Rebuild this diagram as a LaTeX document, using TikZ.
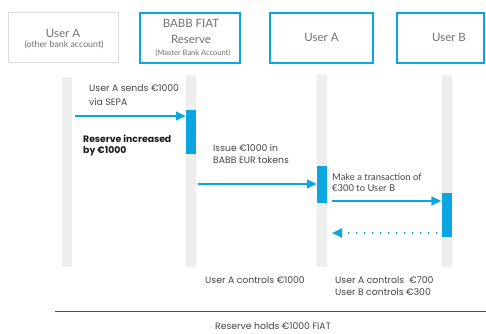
\documentclass[tikz,border=0pt]{standalone}
\usepackage{fontspec}
\setmainfont{Poppins}
\newfontfamily\hdfont{Lato}
\usetikzlibrary{arrows.meta}
\definecolor{babbblue}{HTML}{0BA5DF}
\definecolor{lifegray}{HTML}{EEEEEE}
\definecolor{txtgray}{HTML}{444444}
\definecolor{hdgray}{HTML}{707070}
\definecolor{boxgray}{HTML}{DDDDDD}
\tikzset{
  hdbox/.style={draw=babbblue, line width=2pt, minimum width=100pt, minimum height=50pt, inner sep=0pt},
  hdtext/.style={font=\hdfont\fontsize{11.5}{13}\selectfont, text=hdgray, align=center, inner sep=0pt},
  lifeline/.style={fill=lifegray, draw=none, minimum width=10pt, inner sep=0pt},
  actbar/.style={fill=babbblue, draw=none, minimum width=10pt, inner sep=0pt},
  msg/.style={draw=babbblue, line width=1.5pt, -{Triangle[length=10pt,width=9pt]}},
  retmsg/.style={draw=babbblue, line width=2pt, dash pattern=on 1.5pt off 6.5pt, -{Triangle[length=10pt,width=9pt]}},
  note/.style={font=\fontsize{9.3}{12}\selectfont, text=txtgray, align=left, anchor=west, inner sep=0pt},
}
\begin{document}
\begin{tikzpicture}[x=1pt, y=-1pt]
\useasboundingbox (0,0) rectangle (486,333);
% header boxes
\node[hdbox, draw=boxgray, line width=1pt, minimum width=110pt] (hA) at (63,37.5) {};
\node[hdbox, minimum width=100pt] (hR) at (190,37.5) {};
\node[hdbox, minimum width=103pt] (hU) at (321.5,37.5) {};
\node[hdbox, minimum width=87pt] (hB) at (440.5,37.5) {};
% header texts
\node[hdtext] (hAt) at (63,33) {User A};
\node[hdtext, font=\hdfont\fontsize{8.8}{10}\selectfont] (hAs) at (64,44.5) {(other bank account)};
\node[hdtext] (hRt1) at (191,23) {BABB FIAT};
\node[hdtext] (hRt2) at (191,39.5) {Reserve};
\node[hdtext, font=\hdfont\fontsize{7.5}{9}\selectfont] (hRs) at (193,53) {(Master Bank Account)};
\node[hdtext] (hUt) at (321.5,37.5) {User A};
\node[hdtext] (hBt) at (449,37.5) {User B};
% lifelines
\node[lifeline, minimum height=190pt] (l1) at (66.5,172) {};
\node[lifeline, minimum height=192pt] (l2) at (191,171) {};
\node[lifeline, minimum height=192pt] (l3) at (322,171) {};
\node[lifeline, minimum height=192pt] (l4) at (446.5,171) {};
% activation bars
\node[actbar, minimum height=44pt] (a2) at (191,132) {};
\node[actbar, minimum height=37pt] (a3) at (322,184.5) {};
\node[actbar, minimum height=44pt] (a4) at (446.5,215) {};
% messages
\coordinate (m1s) at (75,116);
\draw[msg] (m1s) -- (m1s -| a2.west);
\coordinate (m2s) at (198,184);
\draw[msg] (m2s) -- (m2s -| a3.west);
\coordinate (m3s) at (332,201);
\draw[msg] (m3s) -- (m3s -| a4.west);
\coordinate (m4s) at (437,233);
\coordinate (m4e) at (332,233);
\draw[retmsg] (m4s) -- (m4e);
% labels
\node[note, font=\fontsize{9.3}{13.5}\selectfont] (t1) at (89,95) {User A sends €1000\\via SEPA};
\node[note, font=\bfseries\fontsize{9.3}{11}\selectfont, text=black!90] (t2) at (83,146) {Reserve increased\\by €1000};
\node[note] (t3) at (213,153.5) {Issue €1000 in\\BABB EUR tokens};
\node[note, font=\hdfont\fontsize{9.4}{11.5}\selectfont] (t4) at (332,182.5) {Make a transaction of\\€300 to User B};
\node[note] (t5) at (205,280) {User A controls €1000};
\node[note] (t6) at (335,286) {User A controls \ €700\\User B controls €300};
% bottom line
\coordinate (bl1) at (55,311);
\coordinate (bl2) at (486,311);
\draw[line width=1pt, draw=black!70] (bl1) -- (bl2);
\node[note] (t7) at (215,326.5) {Reserve holds €1000 FIAT};
\end{tikzpicture}
\end{document}
